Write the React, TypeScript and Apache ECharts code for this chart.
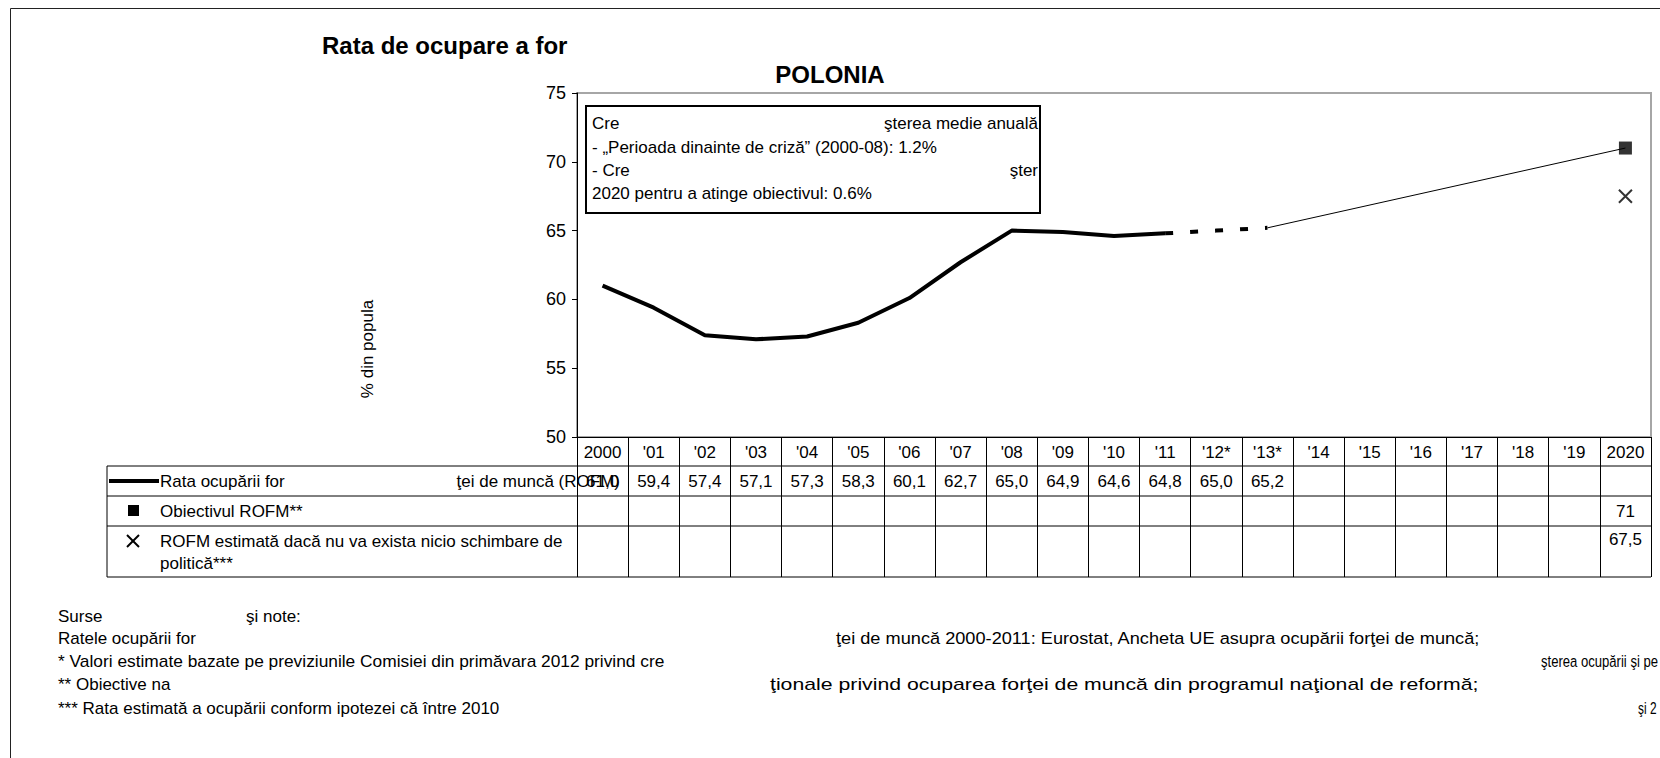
import React, { useEffect, useRef } from "react";
import * as echarts from "echarts";

const years = ["2000", "'01", "'02", "'03", "'04", "'05", "'06", "'07", "'08", "'09", "'10", "'11", "'12*", "'13*", "'14", "'15", "'16", "'17", "'18", "'19", "2020"];
const actual = [61.0, 59.4, 57.4, 57.1, 57.3, 58.3, 60.1, 62.7, 65.0, 64.9, 64.6, 64.8];
const forecast = [65.0, 65.2];
const target2020 = 71;
const noPolicy2020 = 67.5;
const yTicks = { min: 50, max: 75, interval: 5 };

const FONT = "'Liberation Sans', Arial, sans-serif";

function fmt(v: number, dec: number): string {
  return v.toFixed(dec).replace(".", ",");
}

function txt(text: string, x: number, y: number, opts: any = {}) {
  const align = opts.align || "left";
  return {
    type: "text",
    x,
    y,
    z: opts.z || 10,
    scaleX: opts.scaleX || 1,
    rotation: opts.rotation || 0,
    silent: true,
    style: {
      text,
      fontSize: opts.size || 17,
      fontFamily: FONT,
      fontWeight: opts.weight || "normal",
      fill: opts.color || "#000",
      textAlign: align,
      align,
      textVerticalAlign: "middle",
      verticalAlign: "middle",
    },
  };
}

function hline(x1: number, x2: number, y: number, w = 1, color = "#000") {
  return { type: "line", silent: true, z: 5, shape: { x1, y1: y, x2, y2: y }, style: { stroke: color, lineWidth: w } };
}
function vline(x: number, y1: number, y2: number, w = 1, color = "#000") {
  return { type: "line", silent: true, z: 5, shape: { x1: x, y1, x2: x, y2 }, style: { stroke: color, lineWidth: w } };
}

export default function App() {
  const ref = useRef<HTMLDivElement>(null);
  useEffect(() => {
    if (!ref.current) return;
    const chart = echarts.init(ref.current, null, { renderer: "svg" });
    const n = years.length;
    const solid = years.map((_, i) => (i < actual.length ? actual[i] : null));
    const series2 = [actual[actual.length - 1], ...forecast];
    const dashed = years.map((_, i) => {
      const k = i - (actual.length - 1);
      return k >= 0 && k < series2.length ? series2[k] : null;
    });
    const lastIdx = actual.length - 1 + forecast.length;
    const thin = years.map((_, i) => (i === lastIdx ? forecast[forecast.length - 1] : i === n - 1 ? target2020 : null));
    const targetData = years.map((_, i) => (i === n - 1 ? target2020 : null));
    const noPolicyData = years.map((_, i) => (i === n - 1 ? noPolicy2020 : null));

    const gridLeft = 577;
    const gridTop = 93;
    const gridRight = 1651;
    const gridBottom = 437;

    chart.setOption({
      animation: false,
      backgroundColor: "#fff",
      textStyle: { fontFamily: FONT },
      title: [
        { text: "Rata de ocupare a for", left: 317, top: 28, padding: 5, textStyle: { fontSize: 24, fontWeight: "bold", color: "#000", fontFamily: FONT } },
        { text: "POLONIA", left: 825, top: 57, textAlign: "center", textStyle: { fontSize: 24, fontWeight: "bold", color: "#000", fontFamily: FONT } },
      ],
      grid: {
        left: gridLeft,
        top: gridTop,
        right: 1660 - gridRight,
        bottom: 758 - gridBottom,
        show: true,
        borderColor: "#a6a6a6",
        borderWidth: 2,
        backgroundColor: "transparent",
      },
      xAxis: {
        type: "category",
        data: years,
        boundaryGap: true,
        axisLine: { show: true, lineStyle: { color: "#000", width: 1 } },
        axisTick: { show: true, interval: 0, length: 140, lineStyle: { color: "#000", width: 1 } },
        axisLabel: { interval: 0, fontSize: 17, color: "#000", margin: 7, fontFamily: FONT },
        splitLine: { show: false },
      },
      yAxis: {
        type: "value",
        min: yTicks.min,
        max: yTicks.max,
        interval: yTicks.interval,
        axisLine: { show: true, lineStyle: { color: "#000", width: 1 } },
        axisTick: { show: true, length: 5, lineStyle: { color: "#000" } },
        axisLabel: { fontSize: 18, color: "#000", margin: 11, fontFamily: FONT },
        splitLine: { show: false },
      },
      series: [
        {
          name: "Rata ocupării forţei de muncă (ROFM)",
          type: "line",
          data: solid,
          showSymbol: false,
          symbol: "none",
          lineStyle: { color: "#000", width: 4 },
          z: 3,
        },
        {
          name: "Estimări",
          type: "line",
          data: dashed,
          showSymbol: false,
          symbol: "none",
          lineStyle: { color: "#000", width: 4, type: [8, 17] },
          z: 3,
        },
        {
          name: "Traiectorie",
          type: "line",
          data: thin,
          connectNulls: true,
          showSymbol: false,
          symbol: "none",
          lineStyle: { color: "#000", width: 1 },
          z: 3,
        },
        {
          name: "Obiectivul ROFM**",
          type: "scatter",
          data: targetData,
          symbol: "rect",
          symbolSize: 13,
          itemStyle: { color: "#000" },
          z: 4,
        },
        {
          name: "ROFM estimată dacă nu va exista nicio schimbare de politică***",
          type: "scatter",
          data: noPolicyData,
          symbol: "path://M0,0L10,10M10,0L0,10",
          symbolSize: 13,
          itemStyle: { color: "none", borderColor: "#000", borderWidth: 2 },
          z: 4,
        },
      ],
    });

    const xs = years.map((_, i) => chart.convertToPixel({ xAxisIndex: 0 }, i) as number);
    const rowTop = [466, 496, 526, 577];
    const rowMid = [(rowTop[0] + rowTop[1]) / 2, (rowTop[1] + rowTop[2]) / 2];
    const tableLeft = 107;

    const g: any[] = [];
    // outer frame
    g.push({ type: "rect", silent: true, z: 1, shape: { x: 10.5, y: 8.5, width: 1700, height: 800 }, style: { fill: "none", stroke: "#222", lineWidth: 1 } });
    // y-axis title
    g.push(txt("% din popula", 367, 349, { align: "center", rotation: Math.PI / 2 }));
    // table lines
    rowTop.forEach((y) => g.push(hline(tableLeft, gridRight, y)));
    g.push(vline(tableLeft, rowTop[0], rowTop[3]));

    // table row labels
    g.push(hline(109, 159, 481, 4));
    g.push(txt("Rata ocupării for", 160, 481));
    g.push(txt("ţei de muncă (ROFM)", 620, 481, { align: "right" }));
    g.push({ type: "rect", silent: true, z: 6, shape: { x: 128, y: 505, width: 11, height: 11 }, style: { fill: "#000" } });
    g.push(txt("Obiectivul ROFM**", 160, 511));
    g.push({ type: "line", silent: true, z: 6, shape: { x1: 127, y1: 535, x2: 139, y2: 547 }, style: { stroke: "#000", lineWidth: 2 } });
    g.push({ type: "line", silent: true, z: 6, shape: { x1: 139, y1: 535, x2: 127, y2: 547 }, style: { stroke: "#000", lineWidth: 2 } });
    g.push(txt("ROFM estimată dacă nu va exista nicio schimbare de", 160, 541));
    g.push(txt("politică***", 160, 563));

    // table values
    const row1 = [...actual, ...forecast];
    row1.forEach((v, i) => g.push(txt(fmt(v, 1), xs[i], rowMid[0], { align: "center" })));
    g.push(txt(fmt(target2020, 0), xs[n - 1], rowMid[1], { align: "center" }));
    g.push(txt(fmt(noPolicy2020, 1), xs[n - 1], 539, { align: "center" }));

    // annotation box
    g.push({ type: "rect", silent: true, z: 8, shape: { x: 586, y: 106, width: 454, height: 107 }, style: { fill: "#fff", stroke: "#000", lineWidth: 2 } });
    g.push(txt("Cre", 592, 123, { z: 9 }));
    g.push(txt("şterea medie anuală", 1038, 123, { align: "right", z: 9 }));
    g.push(txt("- „Perioada dinainte de criză” (2000-08): 1.2%", 592, 147, { z: 9 }));
    g.push(txt("- Cre", 592, 170, { z: 9 }));
    g.push(txt("şter", 1038, 170, { align: "right", z: 9 }));
    g.push(txt("2020 pentru a atinge obiectivul: 0.6%", 592, 193, { z: 9 }));

    // notes
    g.push(txt("Surse", 58, 616));
    g.push(txt("şi note:", 246, 616));
    g.push(txt("Ratele ocupării for", 58, 638));
    g.push(txt("ţei de muncă 2000-2011: Eurostat, Ancheta UE asupra ocupării forţei de muncă;", 836, 638, { scaleX: 1.07 }));
    g.push(txt("* Valori estimate bazate pe previziunile Comisiei din primăvara 2012 privind cre", 58, 661, { scaleX: 1.02 }));
    g.push(txt("şterea ocupării şi pe", 1541, 661, { scaleX: 0.77 }));
    g.push(txt("** Obiective na", 58, 684));
    g.push(txt("ţionale privind ocuparea forţei de muncă din programul naţional de reformă;", 770, 684, { scaleX: 1.25 }));
    g.push(txt("*** Rata estimată a ocupării conform ipotezei că între 2010", 58, 708));
    g.push(txt("şi 2", 1638, 708, { scaleX: 0.7 }));

    chart.setOption({ graphic: g });

    return () => chart.dispose();
  }, []);
  return <div ref={ref} style={{ position: "absolute", left: 0, top: 0, width: 1660, height: 758 }} />;
}
